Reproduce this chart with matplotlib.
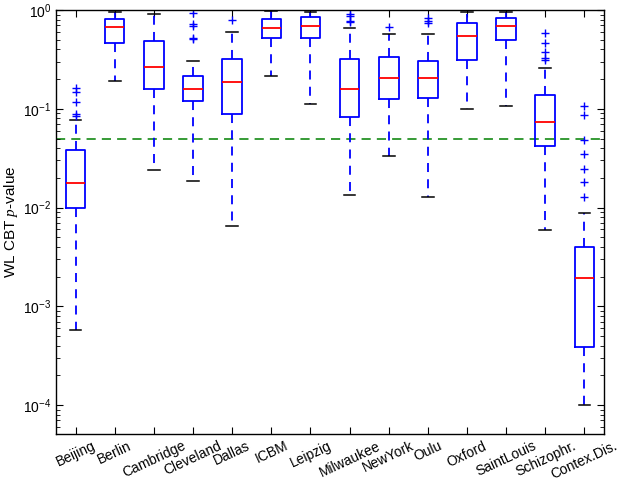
import matplotlib
matplotlib.use("Agg")
import matplotlib.pyplot as plt
from matplotlib.ticker import LogLocator, NullFormatter

plt.rcParams['font.family'] = ['Liberation Sans', 'DejaVu Sans']
plt.rcParams['mathtext.fontset'] = 'custom'
plt.rcParams['mathtext.rm'] = 'Liberation Sans'
plt.rcParams['mathtext.it'] = 'Liberation Serif:italic'

categories = ['Beijing', 'Berlin', 'Cambridge', 'Cleveland', 'Dallas', 'ICBM', 'Leipzig',
              'Milwaukee', 'NewYork', 'Oulu', 'Oxford', 'SaintLouis', 'Schizophr.', 'Contex.Dis.']
medians = [0.0177, 0.667, 0.266, 0.160, 0.186, 0.661, 0.683, 0.159, 0.206, 0.207, 0.545, 0.688, 0.073, 0.00195]
q1 = [0.0098, 0.466, 0.160, 0.120, 0.0886, 0.523, 0.523, 0.0826, 0.127, 0.129, 0.311, 0.492, 0.0419, 0.000388]
q3 = [0.038, 0.81, 0.481, 0.217, 0.318, 0.817, 0.855, 0.316, 0.331, 0.308, 0.732, 0.823, 0.137, 0.00395]
whis_lo = [0.00058, 0.192, 0.0238, 0.0184, 0.00646, 0.214, 0.111, 0.01355, 0.0332, 0.01293, 0.100, 0.106, 0.00589, 0.0001]
whis_hi = [0.077, 0.955, 0.91, 0.303, 0.603, 0.977, 0.96, 0.652, 0.571, 0.571, 0.955, 0.955, 0.258, 0.00875]
outliers = [
    [0.161, 0.148, 0.117, 0.088, 0.084],
    [],
    [],
    [0.94, 0.716, 0.693, 0.524, 0.508],
    [0.79],
    [],
    [],
    [0.91, 0.869, 0.779, 0.755],
    [0.677],
    [0.823, 0.779, 0.732],
    [],
    [],
    [0.58, 0.459, 0.375, 0.326, 0.311],
    [0.106, 0.0859, 0.0487, 0.0351, 0.0243, 0.0181, 0.0129],
]
threshold = 0.05

stats = []
for i, name in enumerate(categories):
    stats.append(dict(label=name, med=medians[i], q1=q1[i], q3=q3[i],
                      whislo=whis_lo[i], whishi=whis_hi[i], fliers=outliers[i]))

fig = plt.figure(figsize=(6.2, 4.86), dpi=100)
ax = fig.add_axes([56/620, 1-434/486, 548/620, 424/486])

blue = '#0000ff'
ax.bxp(stats, positions=range(1, len(categories)+1), widths=0.5,
       boxprops=dict(color=blue, linewidth=1.3),
       whiskerprops=dict(color=blue, linewidth=1.3, linestyle=(0, (5, 4))),
       capprops=dict(color='black', linewidth=1.1),
       medianprops=dict(color='red', linewidth=1.3),
       flierprops=dict(marker='+', markeredgecolor=blue, markersize=6, markeredgewidth=1.0, linestyle='none'),
       capwidths=0.3)

ax.axhline(threshold, color='#008000', linestyle=(0, (6, 4)), linewidth=1.1, zorder=0)

ax.set_yscale('log')
ax.set_ylim(5.1e-5, 1)
ax.set_xlim(0.5, 14.5)
ax.yaxis.set_major_locator(LogLocator(base=10, numticks=10))
ax.yaxis.set_minor_locator(LogLocator(base=10, subs=range(2, 10), numticks=10))
ax.yaxis.set_minor_formatter(NullFormatter())
ax.set_xticks(range(1, len(categories)+1))
ax.set_xticklabels(categories, rotation=25, ha='center', fontsize=10)
ax.tick_params(axis='both', which='both', direction='in', top=True, right=True, labelsize=10)
ax.tick_params(axis='both', which='major', length=5)
ax.tick_params(axis='y', which='minor', length=3)
ax.set_ylabel('WL CBT $p$-value', fontsize=11, labelpad=2)
for s in ax.spines.values():
    s.set_linewidth(1.0)

fig.savefig('out.png', dpi=100)
